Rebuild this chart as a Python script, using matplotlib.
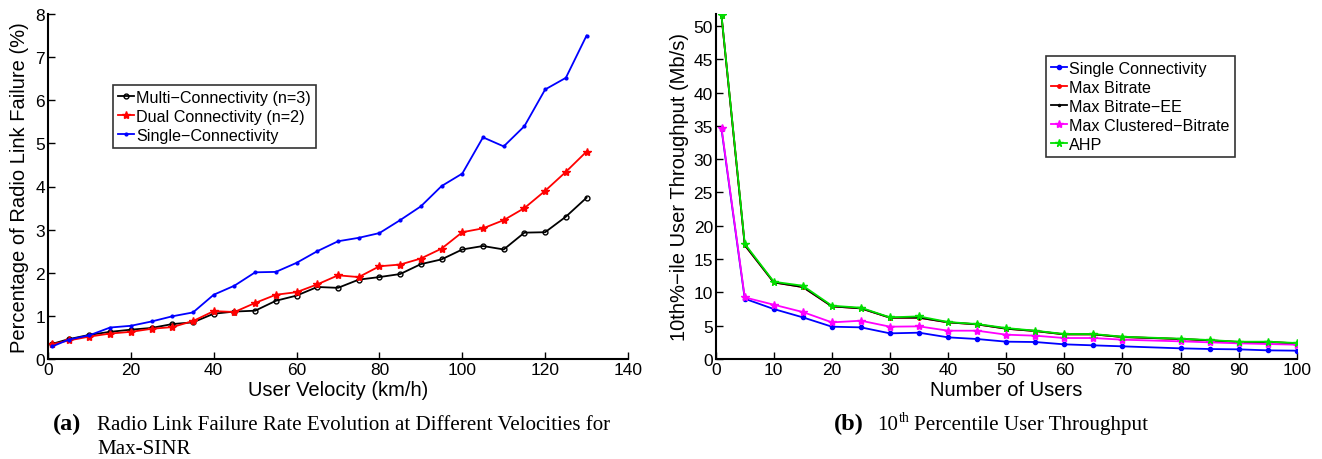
import matplotlib
matplotlib.use("Agg")
import matplotlib.pyplot as plt

# ---------------- data: left panel ----------------
velocity = [1, 5, 10, 15, 20, 25, 30, 35, 40, 45, 50, 55, 60, 65, 70, 75, 80, 85,
            90, 95, 100, 105, 110, 115, 120, 125, 130]
rlf_multi = [0.35, 0.46, 0.56, 0.63, 0.68, 0.72, 0.81, 0.85, 1.05, 1.10, 1.12, 1.35,
             1.47, 1.67, 1.65, 1.84, 1.90, 1.97, 2.20, 2.31, 2.54, 2.62, 2.54, 2.93,
             2.94, 3.30, 3.74]
rlf_dual = [0.34, 0.43, 0.52, 0.59, 0.63, 0.70, 0.74, 0.88, 1.11, 1.09, 1.30, 1.49,
            1.55, 1.73, 1.94, 1.90, 2.15, 2.19, 2.33, 2.56, 2.94, 3.03, 3.22, 3.50,
            3.90, 4.34, 4.81]
rlf_single = [0.29, 0.45, 0.55, 0.73, 0.77, 0.87, 0.99, 1.08, 1.49, 1.70, 2.01, 2.02,
              2.23, 2.50, 2.73, 2.81, 2.92, 3.22, 3.54, 4.01, 4.30, 5.14, 4.93, 5.40,
              6.25, 6.52, 7.50]
left_labels = ["Multi\u2212Connectivity (n=3)", "Dual Connectivity (n=2)",
               "Single\u2212Connectivity"]

# ---------------- data: right panel ----------------
users = [1, 5, 10, 15, 20, 25, 30, 35, 40, 45, 50, 55, 60, 65, 70, 80, 85, 90, 95, 100]
thr_single = [34.5, 9.05, 7.5, 6.25, 4.85, 4.75, 3.85, 3.95, 3.25, 3.0, 2.6, 2.55,
              2.2, 2.05, 1.9, 1.6, 1.5, 1.45, 1.3, 1.25]
thr_maxbr = [51.5, 17.1, 11.5, 10.8, 7.9, 7.6, 6.2, 6.2, 5.5, 5.2, 4.55, 4.2,
             3.7, 3.7, 3.3, 3.0, 2.8, 2.55, 2.55, 2.35]
thr_maxbr_ee = [51.5, 17.1, 11.5, 10.8, 7.9, 7.6, 6.2, 6.2, 5.5, 5.2, 4.55, 4.2,
                3.7, 3.7, 3.3, 3.0, 2.8, 2.55, 2.55, 2.35]
thr_clustered = [34.7, 9.25, 8.15, 7.05, 5.5, 5.75, 4.85, 4.9, 4.25, 4.25, 3.65, 3.5,
                 3.15, 3.15, 2.9, 2.65, 2.5, 2.35, 2.25, 2.15]
thr_ahp = [51.6, 17.3, 11.6, 11.0, 8.0, 7.7, 6.25, 6.4, 5.55, 5.25, 4.65, 4.25,
           3.75, 3.75, 3.35, 3.05, 2.85, 2.6, 2.6, 2.4]
right_labels = ["Single Connectivity", "Max Bitrate", "Max Bitrate\u2212EE",
                "Max Clustered\u2212Bitrate", "AHP"]

plt.rcParams['font.family'] = ['Liberation Sans', 'DejaVu Sans']

W, H = 1322, 460
fig = plt.figure(figsize=(W / 100, H / 100), dpi=100)

def fx(p):
    return p / W

def fy(p):
    return 1 - p / H

axL = fig.add_axes([fx(48), fy(360), fx(580), (360 - 15) / H])
axR = fig.add_axes([fx(715.7), fy(360), fx(581), (360 - 15) / H])

TICK = 12.5
LAB = 14.5
LEG = 11.6

for ax in (axL, axR):
    ax.spines['top'].set_visible(False)
    ax.spines['right'].set_visible(False)
    for s in ('left', 'bottom'):
        ax.spines[s].set_linewidth(1.5)
    ax.tick_params(direction='in', length=5, width=1.0, labelsize=TICK, pad=2)

lw = 1.3
# left panel
axL.plot(velocity, rlf_multi, color='black', marker='o', ms=3.5, mfc='none',
         mew=1.0, lw=lw, label=left_labels[0])
axL.plot(velocity, rlf_dual, color='red', marker='*', ms=6, lw=lw, label=left_labels[1])
axL.plot(velocity, rlf_single, color='blue', marker='.', ms=4, lw=lw, label=left_labels[2])
axL.set_xlim(0, 140)
axL.set_ylim(0, 8)
axL.set_xticks(range(0, 141, 20))
axL.set_yticks(range(0, 9))
axL.set_xlabel("User Velocity (km/h)", fontsize=LAB, labelpad=2)
axL.set_ylabel("Percentage of Radio Link Failure (%)", fontsize=LAB, labelpad=5)
legL = axL.legend(loc='upper left', bbox_to_anchor=(fx(113), fy(86)),
                  bbox_transform=fig.transFigure, borderaxespad=0, fontsize=LEG,
                  frameon=True, fancybox=False, edgecolor='black', handlelength=1.0,
                  handletextpad=0.15, borderpad=0.3, labelspacing=0.25)
legL.get_frame().set_linewidth(1.2)

# right panel
axR.plot(users, thr_single, color='blue', marker='.', ms=6, lw=lw, label=right_labels[0])
axR.plot(users, thr_maxbr, color='red', marker='.', ms=5, lw=lw, label=right_labels[1])
axR.plot(users, thr_maxbr_ee, color='black', marker='.', ms=3, lw=lw, label=right_labels[2])
axR.plot(users, thr_clustered, color='magenta', marker='*', ms=6, lw=lw, label=right_labels[3])
axR.plot(users, thr_ahp, color='#00e000', marker='*', ms=5.5, lw=lw, label=right_labels[4])
axR.set_xlim(0, 100)
axR.set_ylim(0, 51.8)
axR.set_xticks(range(0, 101, 10))
axR.set_yticks(range(0, 51, 5))
axR.set_xlabel("Number of Users", fontsize=LAB, labelpad=2)
axR.set_ylabel("10th%\u2212ile User Throughput (Mb/s)", fontsize=LAB, labelpad=3)
legR = axR.legend(loc='upper left', bbox_to_anchor=(fx(1046), fy(57)),
                  bbox_transform=fig.transFigure, borderaxespad=0, fontsize=LEG,
                  frameon=True, fancybox=False, edgecolor='black', handlelength=1.0,
                  handletextpad=0.15, borderpad=0.3, labelspacing=0.25)
legR.get_frame().set_linewidth(1.2)

# captions
serif = ['Liberation Serif', 'DejaVu Serif']
CAP = 15.1
CAPB = 17.5
fig.text(fx(53), fy(430), "(a)", family=serif, fontweight='bold', fontsize=CAPB,
         va='baseline', ha='left')
fig.text(fx(97), fy(430), "Radio Link Failure Rate Evolution at Different Velocities for",
         family=serif, fontsize=CAP, va='baseline', ha='left')
fig.text(fx(97), fy(454), "Max-SINR", family=serif, fontsize=CAP, va='baseline', ha='left')

fig.text(fx(834), fy(430), "(b)", family=serif, fontweight='bold', fontsize=CAPB,
         va='baseline', ha='left')
t10 = fig.text(fx(877), fy(430), "10", family=serif, fontsize=CAP, va='baseline', ha='left')
fig.canvas.draw()
r = fig.canvas.get_renderer()
e10 = t10.get_window_extent(r)
tth = fig.text((e10.x1 + 0.5) / W, fy(422), "th", family=serif, fontsize=10,
               va='baseline', ha='left')
eth = tth.get_window_extent(r)
fig.text((eth.x1 + 5) / W, fy(430), "Percentile User Throughput", family=serif,
         fontsize=CAP, va='baseline', ha='left')

fig.savefig("out.png", dpi=100)
